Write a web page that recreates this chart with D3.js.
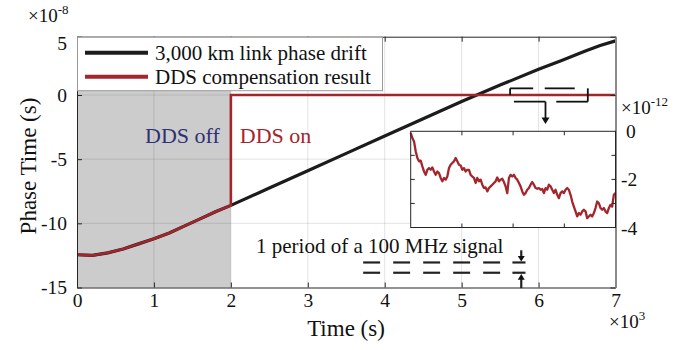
<!DOCTYPE html>
<html><head><meta charset="utf-8">
<script src="https://cdn.jsdelivr.net/npm/d3@7"></script>
<style>
body{margin:0;background:#fff;}
svg{display:block;font-family:"Liberation Serif","Times New Roman",serif;}
</style></head>
<body><svg id="c" width="687" height="350"></svg>
<script>
// ---- data (time in 10^3 s, phase time in 10^-8 s) ----
const timeK   = [0,0.2,0.4,0.6,0.8,1.0,1.2,1.4,1.6,1.8,2.0,2.5,3.0,3.5,4.0,4.5,5.0,5.5,6.0,6.3,6.6,6.8,7.0];
const driftNs = [-12.45,-12.5,-12.3,-12.0,-11.6,-11.2,-10.75,-10.2,-9.65,-9.1,-8.6,-7.25,-5.9,-4.55,-3.2,-1.85,-0.5,0.85,2.2,2.95,3.75,4.25,4.64];
const compTimeK = [0,0.2,0.4,0.6,0.8,1.0,1.2,1.4,1.6,1.8,2.0,2.0,7.0];
const compNs    = [-12.45,-12.5,-12.3,-12.0,-11.6,-11.2,-10.75,-10.2,-9.65,-9.1,-8.6,0,0];
// inset: compensation residual (10^-12 s), evenly sampled over the DDS-on span
const insetPs = [-0.07,-0.28,-0.42,-0.83,-1.11,-1.25,-1.22,-1.46,-1.67,-1.81,-1.6,-1.53,-1.6,-1.5,-1.67,-1.81,-1.67,-1.74,-1.94,-2.08,-1.94,-2.01,-1.88,-1.53,-1.39,-1.32,-1.25,-1.11,-1.25,-1.39,-1.42,-1.6,-1.53,-1.67,-1.6,-1.6,-1.81,-1.88,-1.94,-2.15,-1.94,-2.08,-2.01,-2.22,-2.36,-2.33,-2.5,-2.36,-2.29,-2.22,-2.15,-2.08,-1.92,-2.08,-2.01,-1.97,-2.11,-2.29,-2.57,-1.94,-1.81,
 -1.88,-1.81,-1.94,-2.01,-2.15,-2.29,-2.5,-2.64,-2.57,-2.43,-2.36,-2.22,-2.11,-2.22,-2.36,-2.39,-2.36,-2.43,-2.4,-2.57,-2.36,-2.43,-2.22,-2.29,-2.43,-2.57,-2.43,-2.64,-2.78,-2.57,-2.5,-2.57,-2.43,-2.36,-2.43,-2.64,-2.92,-3.13,-3.33,-3.54,-3.4,-3.47,-3.33,-3.26,-3.33,-3.61,-3.54,-3.47,-3.54,-3.4,-3.19,-2.92,-2.99,-3.19,-3.26,-3.19,-3.33,-3.4,-3.19,-3.06,-3.13,-2.64,-2.57];
const xTicks = [0,1,2,3,4,5,6,7];
const yTicks = [-15,-10,-5,0,5];
const insetYTicks = [0,-1,-2,-3,-4];
const insetYLabels = [0,-2,-4];
const legendLabels = ["3,000 km link phase drift","DDS compensation result"];

const RED = "#a3262c", BLACK = "#1c1c1c", AX = "#262626";
const fmt = d => String(d);
const svg = d3.select("#c");
const L = 77, R = 615.5, T = 36.7, B = 287.5;
const x = d3.scaleLinear().domain([0,7]).range([L,R]);
const y = d3.scaleLinear().domain([-15,0,5]).range([B,95,T]);

// shading DDS off
svg.append("rect").attr("x",x(0)).attr("y",T).attr("width",x(2)-x(0)).attr("height",B-T).attr("fill","#cccccc");
// grid
const g = svg.append("g").attr("stroke",AX).attr("stroke-opacity",0.13).attr("stroke-width",1);
xTicks.slice(1,-1).forEach(t=>g.append("line").attr("x1",x(t)).attr("x2",x(t)).attr("y1",T).attr("y2",B));
yTicks.slice(1,-1).forEach(t=>g.append("line").attr("x1",L).attr("x2",R).attr("y1",y(t)).attr("y2",y(t)));

// lines
const line = d3.line().x(d=>x(d[0])).y(d=>y(d[1]));
svg.append("path").attr("d",line(timeK.map((t,i)=>[t,driftNs[i]]))).attr("fill","none").attr("stroke",BLACK).attr("stroke-width",3.2);
svg.append("path").attr("d",line(compTimeK.map((t,i)=>[t,compNs[i]]))).attr("fill","none").attr("stroke",RED).attr("stroke-width",2.6);

// axes box
const xb = d3.axisBottom(x).tickValues(xTicks).tickFormat(fmt).tickSizeInner(-5).tickSizeOuter(0).tickPadding(6);
const ax = svg.append("g").attr("transform",`translate(0,${B})`).call(xb);
const yl = d3.axisLeft(y).tickValues(yTicks).tickFormat(fmt).tickSizeInner(-5).tickSizeOuter(0).tickPadding(9);
const ay = svg.append("g").attr("transform",`translate(${L},0)`).call(yl);
const xt = svg.append("g").attr("transform",`translate(0,${T})`).call(d3.axisTop(x).tickValues(xTicks).tickSizeInner(-5).tickSizeOuter(0).tickFormat(""));
const yr = svg.append("g").attr("transform",`translate(${R},0)`).call(d3.axisRight(y).tickValues(yTicks).tickSizeInner(-5).tickSizeOuter(0).tickFormat(""));
[ax,ay,xt,yr].forEach(a=>{a.select(".domain").attr("stroke",AX).attr("stroke-width",1);a.selectAll(".tick line").attr("stroke",AX);
  a.selectAll("text").attr("font-family","Liberation Serif").attr("font-size",19.5).attr("fill","#111");});
ay.selectAll(".tick text").attr("dx","-1");
ay.selectAll(".tick text").filter(d=>d===5).attr("dy","0.65em");
yr.select(".domain").attr("stroke","#8a8a8a").attr("stroke-width",2);

// axis labels
svg.append("text").attr("x",346).attr("y",336).attr("text-anchor","middle").attr("font-size",23).attr("fill","#111").text("Time (s)");
svg.append("text").attr("transform","translate(36,166) rotate(-90)").attr("text-anchor","middle").attr("font-size",23).attr("fill","#111").text("Phase Time (s)");
function expo(xp,yp,base,sup){const t=svg.append("text").attr("x",xp).attr("y",yp).attr("font-size",19).attr("fill","#111");
  t.append("tspan").text(base); t.append("tspan").attr("dy",-8).attr("font-size",13).text(sup); return t;}
expo(28,22,"×10","-8");
expo(609,328,"×10","3");
expo(621,114,"×10","-12");

// legend
const lg = svg.append("g");
lg.append("rect").attr("x",77.5).attr("y",37.2).attr("width",305).attr("height",53.5).attr("fill","#fff").attr("stroke","#9a9a9a").attr("stroke-width",1);
[BLACK,RED].forEach((c,i)=>{
  const yy = 52.7 + i*24;
  lg.append("line").attr("x1",85).attr("x2",148).attr("y1",yy).attr("y2",yy).attr("stroke",c).attr("stroke-width",4);
  lg.append("text").attr("x",155).attr("y",yy+7).attr("font-size",21).attr("fill","#111").text(legendLabels[i]);
});

// DDS off / on text
svg.append("text").attr("x",x(2.0)-11).attr("y",y(-3.75)).attr("text-anchor","end").attr("font-size",22).attr("fill","#2f3176").text("DDS off");
svg.append("text").attr("x",x(2.0)+9).attr("y",y(-3.75)).attr("font-size",22).attr("fill",RED).text("DDS on");

// zoom bracket and arrow (in data units)
const an = svg.append("g").attr("stroke","#111").attr("stroke-width",1.8).attr("fill","none");
const seg = (a,b,c,d)=>an.append("line").attr("x1",x(a)).attr("y1",y(b)).attr("x2",x(c)).attr("y2",y(d));
seg(5.63,0.57,5.63,0); seg(5.63,0.57,5.93,0.57); seg(6.08,0.57,6.47,0.57);
seg(6.64,0.57,6.64,-0.52); seg(6.64,-0.52,6.23,-0.52); seg(6.09,-0.52,5.68,-0.52);
seg(6.09,-0.52,6.09,-1.85);
svg.append("path").attr("d",`M${x(6.09)-4},${y(-1.75)} L${x(6.09)+4},${y(-1.75)} L${x(6.09)},${y(-2.25)} Z`).attr("fill","#111");

// 1 period annotation
svg.append("text").attr("x",256).attr("y",253).attr("font-size",21).attr("fill","#111").text("1 period of a 100 MHz signal");
const dashXs = [[3.72,3.94],[4.11,4.33],[4.5,4.72],[4.89,5.11],[5.28,5.5],[5.66,5.83]];
const per = svg.append("g").attr("stroke","#222").attr("stroke-width",2.2);
[-13.05,-13.85].forEach(v=>dashXs.forEach(d=>per.append("line").attr("x1",x(d[0])).attr("x2",x(d[1])).attr("y1",y(v)).attr("y2",y(v))));
per.append("line").attr("x1",x(5.775)).attr("x2",x(5.775)).attr("y1",y(-12.1)).attr("y2",y(-12.7));
per.append("line").attr("x1",x(5.775)).attr("x2",x(5.775)).attr("y1",y(-15.05)).attr("y2",y(-14.3));
svg.append("path").attr("d",`M${x(5.775)-3.5},${y(-12.55)} L${x(5.775)+3.5},${y(-12.55)} L${x(5.775)},${y(-12.98)} Z`).attr("fill","#111");
svg.append("path").attr("d",`M${x(5.775)-3.5},${y(-14.4)} L${x(5.775)+3.5},${y(-14.4)} L${x(5.775)},${y(-13.95)} Z`).attr("fill","#111");

// inset
const iL = 410.7, iR = R, iT = 131.3, iB = 227.5;
const ix = d3.scaleLinear().domain([0,insetPs.length-1]).range([iL,iR]);
const ixt = d3.scaleLinear().domain([0,4]).range([iL,iR]);
const iy = d3.scaleLinear().domain([-4,0]).range([iB,iT]);
const ins = svg.append("g");
ins.append("rect").attr("x",iL).attr("y",iT).attr("width",iR-iL).attr("height",iB-iT).attr("fill","#fff");
ins.append("path").attr("d",d3.line().x((d,i)=>ix(i)).y(d=>iy(d))(insetPs)).attr("fill","none").attr("stroke",RED).attr("stroke-width",2.3).attr("stroke-linejoin","round");
ins.append("rect").attr("x",iL).attr("y",iT).attr("width",iR-iL).attr("height",iB-iT).attr("fill","none").attr("stroke",AX).attr("stroke-width",1);
const it = ins.append("g").attr("stroke",AX).attr("stroke-width",1);
[1,2,3].forEach(k=>{it.append("line").attr("x1",ixt(k)).attr("x2",ixt(k)).attr("y1",iB).attr("y2",iB-4);
  it.append("line").attr("x1",ixt(k)).attr("x2",ixt(k)).attr("y1",iT).attr("y2",iT+4);});
insetYTicks.slice(1,-1).forEach(v=>{it.append("line").attr("x1",iL).attr("x2",iL+4).attr("y1",iy(v)).attr("y2",iy(v));
  it.append("line").attr("x1",iR).attr("x2",iR-4).attr("y1",iy(v)).attr("y2",iy(v));});
insetYLabels.forEach(v=>ins.append("text").attr("x",v===0?626:621).attr("y",iy(v)+7).attr("font-size",19.5).attr("fill","#111").text(fmt(v)));
</script></body></html>
